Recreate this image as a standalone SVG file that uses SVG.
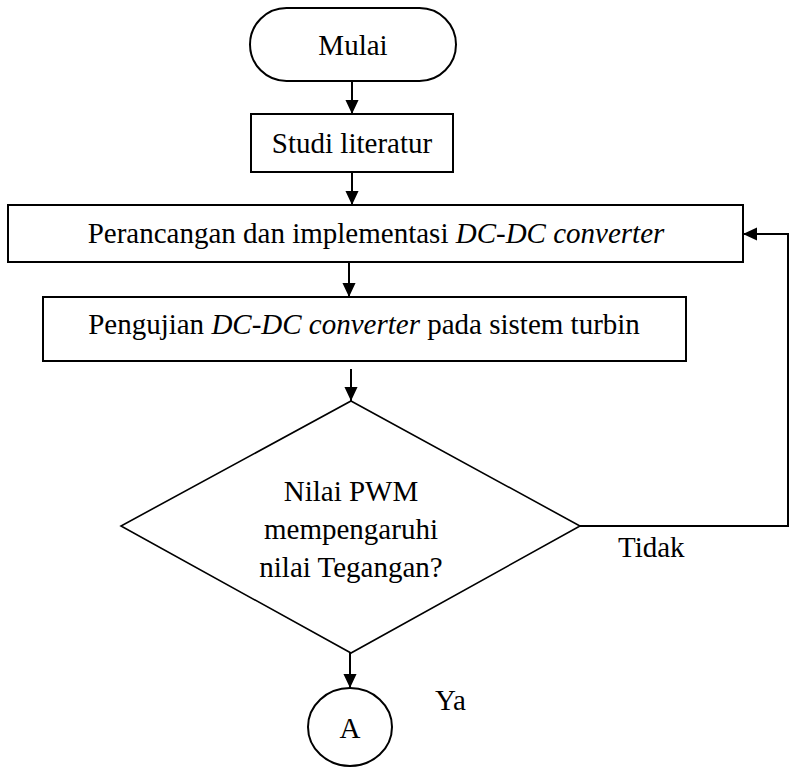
<svg xmlns="http://www.w3.org/2000/svg" width="794" height="767" viewBox="0 0 794 767">
<style>
.s{fill:#fff;stroke:#000;stroke-width:2}
.d{fill:#fff;stroke:#000;stroke-width:1.6}
.c{fill:none;stroke:#000;stroke-width:2}
text{font-family:"Liberation Serif","Times New Roman",serif;font-size:29px;fill:#000}
.m{text-anchor:middle}
.i{font-style:italic}
</style>
<defs>
<marker id="ah" markerWidth="14" markerHeight="14" refX="15" refY="7" orient="auto" markerUnits="userSpaceOnUse" viewBox="0 0 15 14">
<path d="M0,0 L15,7 L0,14 Z" fill="#000"/>
</marker>
<clipPath id="dc"><rect x="0" y="380" width="794" height="203"/></clipPath>
</defs>
<rect width="794" height="767" fill="#fff"/>
<g id="connectors">
<line class="c" x1="352" y1="82" x2="352" y2="114" marker-end="url(#ah)"/>
<line class="c" x1="352" y1="172" x2="352" y2="205" marker-end="url(#ah)"/>
<line class="c" x1="349" y1="262" x2="349" y2="297" marker-end="url(#ah)"/>
<line class="c" x1="351" y1="369" x2="351" y2="401" marker-end="url(#ah)"/>
<line class="c" x1="350" y1="653" x2="350" y2="688" marker-end="url(#ah)"/>
<polyline class="c" points="580,526 788,526 788,234 743,234" marker-end="url(#ah)"/>
</g>
<g id="mulai">
<rect class="s" x="250" y="8" width="206" height="73" rx="36.5"/>
<text class="m" x="353" y="55">Mulai</text>
</g>
<g id="studi">
<rect class="s" x="251" y="114" width="202" height="58"/>
<text class="m" x="352" y="153">Studi literatur</text>
</g>
<g id="perancangan">
<rect class="s" x="8" y="205" width="735" height="57"/>
<text class="m" x="376" y="243">Perancangan dan implementasi <tspan class="i">DC-DC converter</tspan></text>
</g>
<g id="pengujian">
<rect class="s" x="43" y="297" width="643" height="64"/>
<text class="m" x="364" y="334">Pengujian <tspan class="i">DC-DC converter</tspan> pada sistem turbin</text>
</g>
<g id="keputusan">
<polygon class="d" points="351,401 580,526 351,653 121,526"/>
<g clip-path="url(#dc)">
<text class="m" x="351" y="501">Nilai PWM</text>
<text class="m" x="351" y="539">mempengaruhi</text>
<text class="m" x="351" y="577">nilai Tegangan?</text>
</g>
</g>
<g id="label-tidak"><text x="618" y="557">Tidak</text></g>
<g id="label-ya"><text x="435" y="710">Ya</text></g>
<g id="konektor-a">
<ellipse class="s" cx="350" cy="727" rx="42" ry="39"/>
<text class="m" x="350" y="738">A</text>
</g>
</svg>
